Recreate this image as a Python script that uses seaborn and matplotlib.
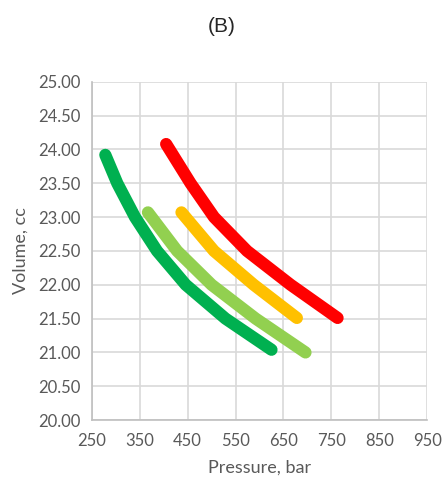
import matplotlib.pyplot as plt
import seaborn as sns
import pandas as pd

sns.set_theme(style="white")
plt.rcParams["font.family"] = ["Lato", "DejaVu Sans"]

# curves (pressure in bar, volume in cc)
p_dark = [278, 303, 340, 386, 446, 529, 625]
v_dark = [23.92, 23.50, 23.00, 22.50, 22.00, 21.50, 21.04]

p_light = [367, 428, 500, 592, 696]
v_light = [23.07, 22.50, 22.00, 21.50, 21.00]

p_orange = [437, 505, 588, 678]
v_orange = [23.07, 22.50, 22.00, 21.51]

p_red = [405, 456, 505, 574, 665, 763]
v_red = [24.08, 23.50, 23.00, 22.50, 22.00, 21.51]

series = ["dark", "light", "orange", "red"]
colors = ["#00b050", "#92d050", "#ffc000", "#ff0000"]

frames = []
for name, p, v in zip(series, [p_dark, p_light, p_orange, p_red],
                      [v_dark, v_light, v_orange, v_red]):
    frames.append(pd.DataFrame({"Pressure": p, "Volume": v, "Series": name}))
df = pd.concat(frames, ignore_index=True)

fig = plt.figure(figsize=(4.44, 4.84), dpi=100)
ax = fig.add_axes([0.207, 0.132, 0.755, 0.699])

sns.lineplot(data=df, x="Pressure", y="Volume", hue="Series", sort=False,
             palette=dict(zip(series, colors)), linewidth=8.8,
             solid_capstyle="round", solid_joinstyle="round",
             legend=False, ax=ax)

ax.set_xlim(250, 950)
ax.set_ylim(20, 25)
ax.set_xticks(range(250, 951, 100))
ax.set_yticks([20 + 0.5 * i for i in range(11)])
ax.set_yticklabels([f"{20 + 0.5 * i:.2f}" for i in range(11)])
ax.grid(True, color="#d9d9d9", linewidth=1.2)
ax.set_axisbelow(True)
for s in ["top", "right"]:
    ax.spines[s].set_visible(False)
for s in ["left", "bottom"]:
    ax.spines[s].set_color("#bfbfbf")
    ax.spines[s].set_linewidth(1.2)
ax.tick_params(colors="#595959", labelsize=12, length=0)
ax.tick_params(axis="x", pad=9)
ax.tick_params(axis="y", pad=8)
ax.set_xlabel("Pressure, bar", color="#595959", fontsize=13, labelpad=8)
ax.set_ylabel("Volume, cc", color="#595959", fontsize=13, labelpad=7)

fig.text(0.5, 0.945, "(B)", ha="center", va="center", fontsize=15,
         family=["Liberation Sans", "DejaVu Sans"])

plt.savefig("out.png", dpi=100)
plt.close()
